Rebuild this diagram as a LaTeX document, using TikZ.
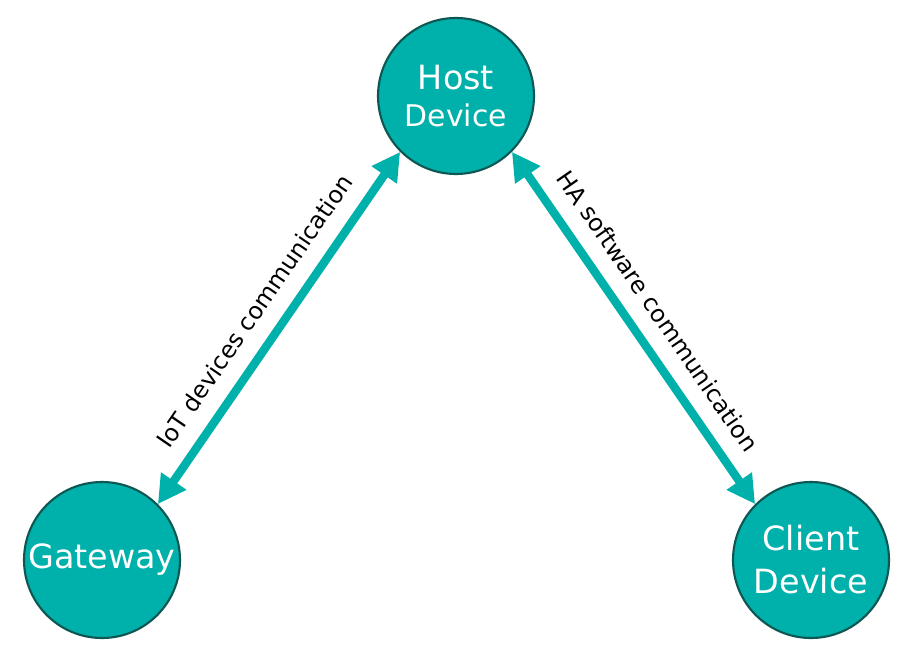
\documentclass[tikz,border=0pt]{standalone}
\usepackage{fontspec}
\setmainfont{DejaVu Sans}
\usetikzlibrary{arrows.meta}
\definecolor{tealfill}{HTML}{00B0AA}
\definecolor{tealline}{HTML}{0D5652}
\begin{document}
\begin{tikzpicture}[every text node part/.style={align=center},
    device/.style={circle, draw=tealline, line width=1.2pt, fill=tealfill,
      minimum size=3.12cm, inner sep=0pt, text=white, font=\fontsize{19}{24.5}\selectfont},
    link/.style={draw=tealfill, line width=4.8pt,
      {Triangle[length=0.56cm, width=0.58cm]}-{Triangle[length=0.56cm, width=0.58cm]}},
    linklabel/.style={sloped, above=6pt, font=\fontsize{13.5}{16}\selectfont, text=black}]

    \useasboundingbox (0,0) rectangle (18.1,13.3);

    \node[device] (Host)    at (9.12,11.38) {Host\\[-3pt]{\fontsize{17}{20}\selectfont Device}};
    \node[device] (Gateway) at (2.04,2.10)  {Gateway};
    \node[device] (Client)  at (16.22,2.10) {Client\\Device};

    \draw[link] (Host.south west) -- node[linklabel] {IoT devices communication} (Gateway.north east);
    \draw[link] (Host.south east) -- node[linklabel] {HA software communication} (Client.north west);
  \end{tikzpicture}
\end{document}
